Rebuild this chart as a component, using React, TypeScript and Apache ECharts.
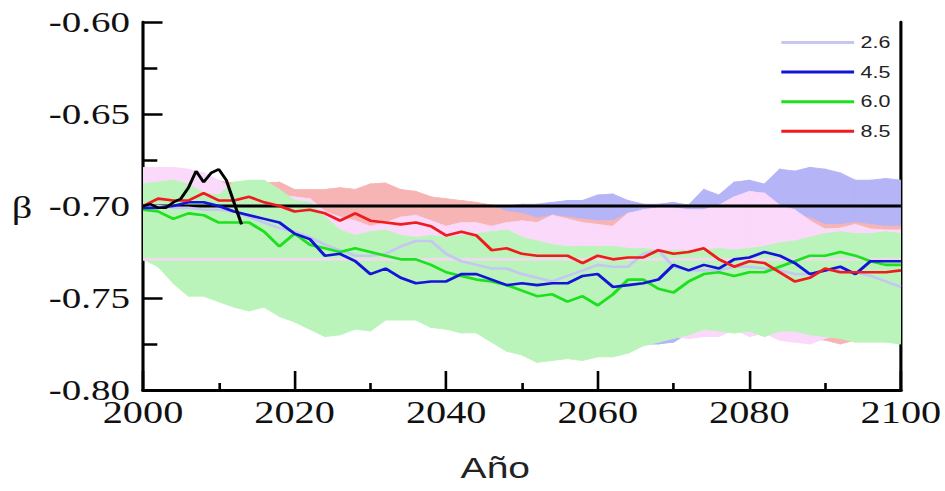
import React, { useEffect, useRef } from "react";
import * as echarts from "echarts";

// ---------- data ----------
const years = [
  2000, 2002, 2004, 2006, 2008, 2010, 2012, 2014, 2016, 2018,
  2020, 2022, 2024, 2026, 2028, 2030, 2032, 2034, 2036, 2038,
  2040, 2042, 2044, 2046, 2048, 2050, 2052, 2054, 2056, 2058,
  2060, 2062, 2064, 2066, 2068, 2070, 2072, 2074, 2076, 2078,
  2080, 2082, 2084, 2086, 2088, 2090, 2092, 2094, 2096, 2098, 2100,
];

const rcp26 = [
  -0.700, -0.700, -0.701, -0.701, -0.702, -0.702, -0.703, -0.706, -0.709, -0.712,
  -0.714, -0.717, -0.721, -0.724, -0.727, -0.727, -0.726, -0.722, -0.719, -0.719,
  -0.726, -0.730, -0.732, -0.734, -0.734, -0.737, -0.739, -0.741, -0.738, -0.735,
  -0.732, -0.733, -0.733, -0.726, -0.724, -0.733, -0.735, -0.735, -0.735, -0.733,
  -0.733, -0.734, -0.735, -0.737, -0.737, -0.735, -0.735, -0.736, -0.738, -0.741, -0.744,
];
const rcp45 = [
  -0.701, -0.701, -0.700, -0.698, -0.698, -0.700, -0.703, -0.705, -0.707, -0.709,
  -0.715, -0.718, -0.727, -0.726, -0.730, -0.737, -0.734, -0.739, -0.742, -0.741,
  -0.741, -0.737, -0.737, -0.740, -0.743, -0.742, -0.743, -0.742, -0.742, -0.738,
  -0.737, -0.744, -0.743, -0.742, -0.740, -0.732, -0.735, -0.732, -0.734, -0.729,
  -0.728, -0.725, -0.727, -0.731, -0.737, -0.735, -0.733, -0.737, -0.730, -0.730, -0.730,
];
const rcp60 = [
  -0.702, -0.703, -0.707, -0.704, -0.705, -0.709, -0.709, -0.709, -0.714, -0.722,
  -0.715, -0.721, -0.723, -0.725, -0.723, -0.725, -0.727, -0.729, -0.729, -0.732,
  -0.736, -0.738, -0.740, -0.741, -0.743, -0.746, -0.749, -0.748, -0.752, -0.749,
  -0.754, -0.748, -0.740, -0.740, -0.745, -0.747, -0.741, -0.737, -0.736, -0.738,
  -0.736, -0.736, -0.733, -0.730, -0.727, -0.727, -0.725, -0.727, -0.730, -0.732, -0.732,
];
const rcp85 = [
  -0.700, -0.696, -0.697, -0.697, -0.693, -0.697, -0.697, -0.695, -0.698, -0.700,
  -0.703, -0.702, -0.704, -0.708, -0.704, -0.708, -0.709, -0.710, -0.709, -0.711,
  -0.716, -0.714, -0.716, -0.724, -0.723, -0.726, -0.727, -0.727, -0.727, -0.731,
  -0.727, -0.729, -0.728, -0.728, -0.724, -0.726, -0.725, -0.723, -0.729, -0.733,
  -0.730, -0.731, -0.736, -0.741, -0.739, -0.734, -0.736, -0.736, -0.736, -0.736, -0.735,
];

const obsYears = [2000, 2001, 2002, 2003, 2004, 2005, 2006, 2007, 2008, 2009, 2010, 2011, 2012, 2013];
const obsValues = [-0.700, -0.699, -0.701, -0.701, -0.698, -0.696, -0.690, -0.681, -0.687, -0.682, -0.680, -0.686, -0.698, -0.710];

// ensemble ranges (upper / lower)
const band45High = [
  -0.684, -0.684, -0.685, -0.686, -0.688, -0.690, -0.691, -0.692, -0.692, -0.692,
  -0.694, -0.694, -0.695, -0.695, -0.696, -0.696, -0.696, -0.697, -0.698, -0.699,
  -0.700, -0.700, -0.701, -0.701, -0.700, -0.699, -0.699, -0.698, -0.697, -0.697,
  -0.694, -0.6935, -0.697, -0.699, -0.699, -0.698, -0.6995, -0.691, -0.694, -0.687,
  -0.686, -0.688, -0.680, -0.681, -0.679, -0.680, -0.682, -0.686, -0.686, -0.685, -0.686,
];
const band45Low = [
  -0.726, -0.730, -0.739, -0.746, -0.746, -0.749, -0.752, -0.754, -0.752, -0.757,
  -0.760, -0.764, -0.768, -0.767, -0.764, -0.765, -0.759, -0.759, -0.759, -0.763,
  -0.764, -0.766, -0.766, -0.771, -0.776, -0.778, -0.782, -0.781, -0.780, -0.781,
  -0.779, -0.779, -0.777, -0.775, -0.775, -0.774, -0.769, -0.767, -0.768, -0.766,
  -0.768, -0.767, -0.768, -0.768, -0.769, -0.770, -0.769, -0.771, -0.771, -0.771, -0.772,
];
const band85High = [
  -0.680, -0.680, -0.681, -0.683, -0.684, -0.6864, -0.6875, -0.688, -0.6875, -0.687,
  -0.691, -0.691, -0.691, -0.690, -0.691, -0.688, -0.6875, -0.691, -0.692, -0.695,
  -0.696, -0.697, -0.698, -0.6995, -0.703, -0.704, -0.7065, -0.705, -0.706, -0.707,
  -0.708, -0.708, -0.704, -0.703, -0.702, -0.702, -0.703, -0.703, -0.7005, -0.696,
  -0.693, -0.694, -0.7005, -0.704, -0.7065, -0.710, -0.710, -0.709, -0.710, -0.711, -0.711,
];
const band85Low = [
  -0.726, -0.730, -0.739, -0.746, -0.746, -0.749, -0.752, -0.754, -0.752, -0.757,
  -0.760, -0.764, -0.768, -0.767, -0.764, -0.765, -0.759, -0.759, -0.759, -0.763,
  -0.764, -0.766, -0.766, -0.771, -0.776, -0.778, -0.782, -0.781, -0.780, -0.781,
  -0.779, -0.779, -0.777, -0.773, -0.771, -0.770, -0.770, -0.768, -0.769, -0.766,
  -0.769, -0.768, -0.771, -0.772, -0.772, -0.773, -0.775, -0.773, -0.771, -0.771, -0.772,
];
const band26High = [
  -0.679, -0.679, -0.679, -0.680, -0.682, -0.686, -0.691, -0.692, -0.693, -0.694,
  -0.695, -0.696, -0.703, -0.706, -0.708, -0.711, -0.709, -0.706, -0.705, -0.708,
  -0.711, -0.709, -0.709, -0.711, -0.709, -0.708, -0.709, -0.705, -0.707, -0.709,
  -0.710, -0.711, -0.704, -0.702, -0.701, -0.701, -0.702, -0.702, -0.6995, -0.695,
  -0.692, -0.693, -0.6995, -0.702, -0.708, -0.7125, -0.712, -0.710, -0.7125, -0.713, -0.713,
];
const band26Low = [
  -0.727, -0.731, -0.740, -0.747, -0.747, -0.750, -0.753, -0.755, -0.753, -0.758,
  -0.761, -0.765, -0.769, -0.768, -0.765, -0.766, -0.760, -0.760, -0.760, -0.764,
  -0.765, -0.767, -0.767, -0.772, -0.777, -0.779, -0.783, -0.782, -0.781, -0.782,
  -0.780, -0.780, -0.778, -0.774, -0.772, -0.771, -0.772, -0.771, -0.771, -0.767,
  -0.771, -0.769, -0.773, -0.774, -0.775, -0.772, -0.770, -0.772, -0.772, -0.772, -0.773,
];
const band60High = [
  -0.688, -0.687, -0.686, -0.688, -0.693, -0.694, -0.687, -0.686, -0.686, -0.691,
  -0.697, -0.698, -0.706, -0.713, -0.716, -0.714, -0.713, -0.716, -0.717, -0.716,
  -0.717, -0.716, -0.715, -0.714, -0.713, -0.717, -0.719, -0.721, -0.722, -0.722,
  -0.722, -0.722, -0.723, -0.723, -0.724, -0.724, -0.724, -0.724, -0.723, -0.724,
  -0.723, -0.722, -0.720, -0.719, -0.717, -0.715, -0.714, -0.715, -0.715, -0.714, -0.715,
];
const band60Low = [
  -0.729, -0.733, -0.742, -0.749, -0.749, -0.752, -0.755, -0.757, -0.755, -0.760,
  -0.763, -0.767, -0.771, -0.770, -0.767, -0.768, -0.762, -0.762, -0.762, -0.766,
  -0.767, -0.769, -0.769, -0.774, -0.779, -0.781, -0.785, -0.784, -0.783, -0.784,
  -0.782, -0.782, -0.780, -0.776, -0.774, -0.772, -0.770, -0.767, -0.768, -0.769,
  -0.768, -0.771, -0.768, -0.768, -0.770, -0.771, -0.772, -0.774, -0.774, -0.774, -0.775,
];

const refLevel = -0.70;
const paleLevel = -0.729;
const legendNames = ["2.6", "4.5", "6.0", "8.5"];
const yTicks = { min: -0.8, max: -0.6, step: 0.05 };
const xTicks = { min: 2000, max: 2100, step: 20 };

// ---------- layout ----------
const S = 1.3; // horizontal stretch of the original figure
const W = 727;
const H = 491;

const pairs = (xs: number[], ys: number[]) => xs.map((x, i) => [x, ys[i]]);

function bandSeries(name: string, hi: number[], lo: number[], color: string) {
  return {
    name,
    type: "custom",
    silent: true,
    z: 1,
    clip: true,
    data: years.map((y, i) => [y, lo[i], hi[i]]),
    encode: { x: 0, y: [1, 2] },
    renderItem: (params: any, api: any) => {
      const i = params.dataIndexInside;
      if (i >= params.dataInsideLength - 1) return null;
      const x0 = api.value(0, i);
      const x1 = api.value(0, i + 1);
      const pts = [
        api.coord([x0, api.value(2, i)]),
        api.coord([x1, api.value(2, i + 1)]),
        api.coord([x1, api.value(1, i + 1)]),
        api.coord([x0, api.value(1, i)]),
      ];
      return {
        type: "polygon",
        shape: { points: pts },
        style: { fill: color, stroke: color, lineWidth: 0.8 },
      };
    },
  };
}

function lineSeries(name: string, vals: number[], color: string, z: number) {
  return {
    name,
    type: "line",
    data: pairs(years, vals),
    symbol: "none",
    showSymbol: false,
    lineStyle: { color, width: 2.6 },
    itemStyle: { color },
    z,
    emphasis: { disabled: true },
  };
}

const option: any = {
  animation: false,
  backgroundColor: "#ffffff",
  grid: { left: 110, right: 31, top: 22, bottom: 101, containLabel: false },
  legend: {
    data: legendNames,
    orient: "vertical",
    left: 596,
    top: 29,
    icon: "rect",
    itemWidth: 56,
    itemHeight: 3,
    itemGap: 12.6,
    textStyle: { fontFamily: "Liberation Sans", fontSize: 16.5, color: "#222", lineHeight: 16 },
    selectedMode: false,
  },
  xAxis: {
    type: "value",
    min: xTicks.min,
    max: xTicks.max,
    interval: xTicks.step,
    axisLine: { show: true, onZero: false, lineStyle: { color: "#000", width: 3 } },
    axisTick: { show: true, inside: true, length: 19, lineStyle: { color: "#000", width: 2 } },
    minorTick: { show: true, splitNumber: 2, length: 7, lineStyle: { color: "#000", width: 2 } },
    splitLine: { show: false },
    minorSplitLine: { show: false },
    axisLabel: {
      formatter: (v: number) => String(v),
      fontFamily: "Liberation Serif",
      fontSize: 31,
      lineHeight: 24,
      color: "#111",
      margin: 11,
    },
  },
  yAxis: [
    {
      type: "value",
      min: yTicks.min,
      max: yTicks.max,
      interval: yTicks.step,
      axisLine: { show: true, onZero: false, lineStyle: { color: "#000", width: 2.4 } },
      axisTick: { show: true, inside: true, length: 15, lineStyle: { color: "#000", width: 2.5 } },
      minorTick: { show: true, splitNumber: 2, length: 11, lineStyle: { color: "#000", width: 2.5 } },
      splitLine: { show: false },
      minorSplitLine: { show: false },
      axisLabel: {
        formatter: (v: number) => v.toFixed(2),
        fontFamily: "Liberation Serif",
        fontSize: 30,
        lineHeight: 20,
        color: "#111",
        margin: 10,
      },
    },
    {
      type: "value",
      position: "right",
      min: yTicks.min,
      max: yTicks.max,
      interval: yTicks.step,
      axisLine: { show: true, onZero: false, lineStyle: { color: "#000", width: 2.4 } },
      axisTick: { show: false },
      axisLabel: { show: false },
      splitLine: { show: false },
    },
  ],
  graphic: [
    {
      type: "text",
      x: 17,
      y: 208,
      style: {
        text: "β",
        font: '31px "Liberation Serif"',
        fill: "#111",
        textAlign: "center",
        textVerticalAlign: "middle",
      },
    },
    {
      type: "text",
      x: 381,
      y: 468,
      style: {
        text: "Año",
        font: '30px "Liberation Sans"',
        fill: "#222",
        textAlign: "center",
        textVerticalAlign: "middle",
      },
    },
  ],
  series: [
    bandSeries("range 4.5", band45High, band45Low, "#b4b4f6"),
    bandSeries("range 8.5", band85High, band85Low, "#f7b4b4"),
    bandSeries("range 2.6", band26High, band26Low, "#fad9fa"),
    bandSeries("range 6.0", band60High, band60Low, "#baf4ba"),
    {
      name: "pale",
      type: "line",
      data: [
        [xTicks.min, paleLevel],
        [xTicks.max, paleLevel],
      ],
      symbol: "none",
      lineStyle: { color: "#ecdcea", width: 3 },
      silent: true,
      z: 2,
    },
    {
      name: "ref",
      type: "line",
      data: [
        [xTicks.min, refLevel],
        [xTicks.max, refLevel],
      ],
      symbol: "none",
      lineStyle: { color: "#000", width: 3 },
      silent: true,
      z: 2,
    },
    lineSeries("2.6", rcp26, "#c6c6f2", 3),
    lineSeries("6.0", rcp60, "#1ee01e", 3),
    lineSeries("4.5", rcp45, "#1414d8", 3),
    lineSeries("8.5", rcp85, "#ee1c1c", 3),
    {
      name: "obs",
      type: "line",
      data: pairs(obsYears, obsValues),
      symbol: "none",
      lineStyle: { color: "#000", width: 2.4 },
      silent: true,
      z: 4,
    },
  ],
};

export default function App() {
  const ref = useRef<HTMLDivElement>(null);
  useEffect(() => {
    if (!ref.current) return;
    const chart = echarts.init(ref.current, null, { renderer: "svg", width: W, height: H });
    chart.setOption(option);
    return () => chart.dispose();
  }, []);
  return (
    <div
      ref={ref}
      style={{
        position: "fixed",
        left: 0,
        top: 0,
        width: W,
        height: H,
        transform: `scaleX(${S})`,
        transformOrigin: "0 0",
        background: "#fff",
      }}
    />
  );
}
